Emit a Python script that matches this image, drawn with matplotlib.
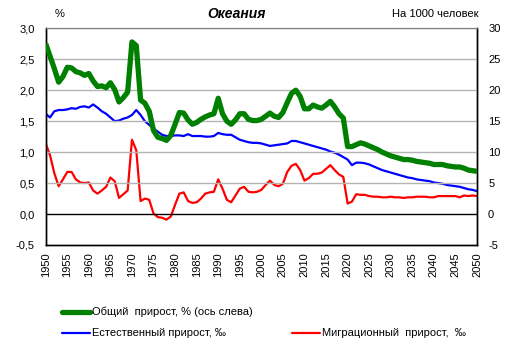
import matplotlib
matplotlib.use("Agg")
import matplotlib.pyplot as plt
from matplotlib.lines import Line2D
from matplotlib.ticker import FuncFormatter
import numpy as np

plt.rc("font", family=["Liberation Sans", "DejaVu Sans"], size=7.5)
plt.rc("axes", unicode_minus=False)

years = np.arange(1950, 2051)

# общий прирост, % (left axis)
total = [
    2.75, 2.55, 2.35, 2.13, 2.22, 2.37, 2.36, 2.30, 2.28, 2.24,
    2.27, 2.15, 2.06, 2.07, 2.04, 2.12, 2.01, 1.81, 1.88, 1.97,
    2.78, 2.72, 1.84, 1.79, 1.66, 1.35, 1.24, 1.22, 1.19, 1.27,
    1.45, 1.64, 1.63, 1.52, 1.45, 1.48, 1.53, 1.57, 1.60, 1.62,
    1.87, 1.62, 1.50, 1.45, 1.52, 1.62, 1.62, 1.53, 1.51, 1.51,
    1.53, 1.58, 1.63, 1.58, 1.56, 1.64, 1.80, 1.95, 2.00, 1.90,
    1.70, 1.70, 1.76, 1.73, 1.71, 1.76, 1.82, 1.73, 1.62, 1.55,
    1.09, 1.09, 1.12, 1.15, 1.13, 1.10, 1.07, 1.04, 1.00, 0.97,
    0.94, 0.92, 0.90, 0.88, 0.88, 0.87, 0.85, 0.84, 0.83, 0.82,
    0.80, 0.80, 0.80, 0.78, 0.77, 0.76, 0.76, 0.74, 0.71, 0.70,
    0.69,
]

# естественный прирост, per mille (right axis)
natural = [
    16.2, 15.6, 16.6, 16.8, 16.8, 16.9, 17.1, 17.0, 17.3, 17.4,
    17.2, 17.7, 17.2, 16.6, 16.2, 15.6, 15.0, 15.1, 15.4, 15.6,
    16.0, 16.8, 16.0, 15.0, 14.4, 13.8, 13.3, 12.8, 12.6, 12.6,
    12.7, 12.7, 12.6, 12.9, 12.6, 12.6, 12.6, 12.5, 12.5, 12.6,
    13.1, 12.9, 12.8, 12.8, 12.4, 12.0, 11.8, 11.6, 11.5, 11.5,
    11.4, 11.2, 11.0, 11.1, 11.2, 11.3, 11.4, 11.8, 11.8, 11.6,
    11.4, 11.2, 11.0, 10.8, 10.6, 10.4, 10.1, 9.9, 9.6, 9.2,
    8.8, 7.9, 8.3, 8.3, 8.2, 8.0, 7.7, 7.4, 7.1, 6.9,
    6.7, 6.5, 6.3, 6.1, 5.9, 5.8, 5.6, 5.5, 5.4, 5.3,
    5.1, 5.0, 4.9, 4.7, 4.6, 4.5, 4.4, 4.2, 4.0, 3.9,
    3.7,
]

# миграционный прирост, per mille (right axis)
migration = [
    11.4, 9.5, 6.6, 4.5, 5.6, 6.8, 6.8, 5.6, 5.1, 5.0,
    5.1, 3.8, 3.3, 3.8, 4.4, 5.9, 5.3, 2.6, 3.2, 3.8,
    12.0, 10.3, 2.1, 2.5, 2.3, 0.1, -0.5, -0.6, -0.9, -0.4,
    1.5, 3.3, 3.5, 2.1, 1.8, 1.9, 2.5, 3.3, 3.5, 3.6,
    5.6, 4.1, 2.3, 1.9, 3.0, 4.1, 4.4, 3.6, 3.5, 3.6,
    3.9, 4.7, 5.4, 4.7, 4.5, 4.9, 6.8, 7.8, 8.1, 7.1,
    5.4, 5.8, 6.5, 6.5, 6.7, 7.3, 7.9, 7.1, 6.4, 6.0,
    1.7, 2.0, 3.2, 3.1, 3.1, 2.9, 2.8, 2.8, 2.7, 2.7,
    2.8, 2.7, 2.7, 2.6, 2.7, 2.7, 2.8, 2.8, 2.8, 2.7,
    2.7, 2.9, 2.9, 2.9, 2.9, 2.9, 2.7, 3.0, 2.9, 3.0,
    2.9,
]

labels = [
    "Общий  прирост, % (ось слева)",
    "Естественный прирост, ‰",
    "Миграционный  прирост,  ‰",
]

W, H = 515, 351
fig = plt.figure(figsize=(W / 100, H / 100), dpi=100)
ax = fig.add_axes([45.7 / W, 1 - 245 / H, (477 - 45.7) / W, (245 - 28.3) / H])
ax2 = ax.twinx()

# grid + zero line
for v in np.arange(0.5, 3.01, 0.5):
    ax.axhline(v, color="#b4b4b4", lw=1, zorder=0)
ax.axhline(0, color="black", lw=1, zorder=1)

ax2.plot(years, natural, color="#0000ff", lw=1.6, zorder=3)
ax2.plot(years, migration, color="#ff0000", lw=1.6, zorder=3)
ax.plot(years, total, color="#008000", lw=3.8, solid_capstyle="butt", zorder=4)
ax.set_zorder(ax2.get_zorder() + 1)
ax.patch.set_visible(False)

ax.set_xlim(1950, 2050)
ax.set_ylim(-0.5, 3.0)
ax2.set_ylim(-5, 30)
ax.set_yticks(np.arange(-0.5, 3.01, 0.5))
ax2.set_yticks(np.arange(-5, 31, 5))
ax.yaxis.set_major_formatter(FuncFormatter(lambda v, p: f"{v:.1f}".replace(".", ",")))
ax.set_xticks(np.arange(1950, 2051, 5))
ax.tick_params(axis="x", length=0, pad=5, labelrotation=90, labelsize=8)
ax.tick_params(axis="y", length=0, pad=8, labelsize=8)
ax2.tick_params(axis="y", length=0, pad=8, labelsize=8)

for a in (ax, ax2):
    a.spines["top"].set_color("#808080")
    for s in ("left", "right", "bottom"):
        a.spines[s].set_color("black")
        a.spines[s].set_linewidth(1)

# header texts
fig.text(237 / W, 1 - 14 / H, "Океания", ha="center", va="center",
         fontsize=10, fontweight="bold", fontstyle="italic")
fig.text(60 / W, 1 - 14 / H, "%", ha="center", va="center", fontsize=8)
fig.text(478 / W, 1 - 14 / H, "На 1000 человек", ha="right", va="center", fontsize=8)

# legend drawn by hand
legend_items = [
    (62, 90, 312, "#008000", 3.8, labels[0]),
    (62, 90, 333, "#0000ff", 1.6, labels[1]),
    (292, 320, 333, "#ff0000", 1.6, labels[2]),
]
for x0, x1, y, c, lw, txt in legend_items:
    fig.add_artist(Line2D([x0 / W, x1 / W], [1 - y / H, 1 - y / H], color=c, lw=lw,
                          solid_capstyle="round", transform=fig.transFigure))
    fig.text((x1 + 2) / W, 1 - y / H, txt, ha="left", va="center", fontsize=8)

fig.savefig("out.png", dpi=100)
